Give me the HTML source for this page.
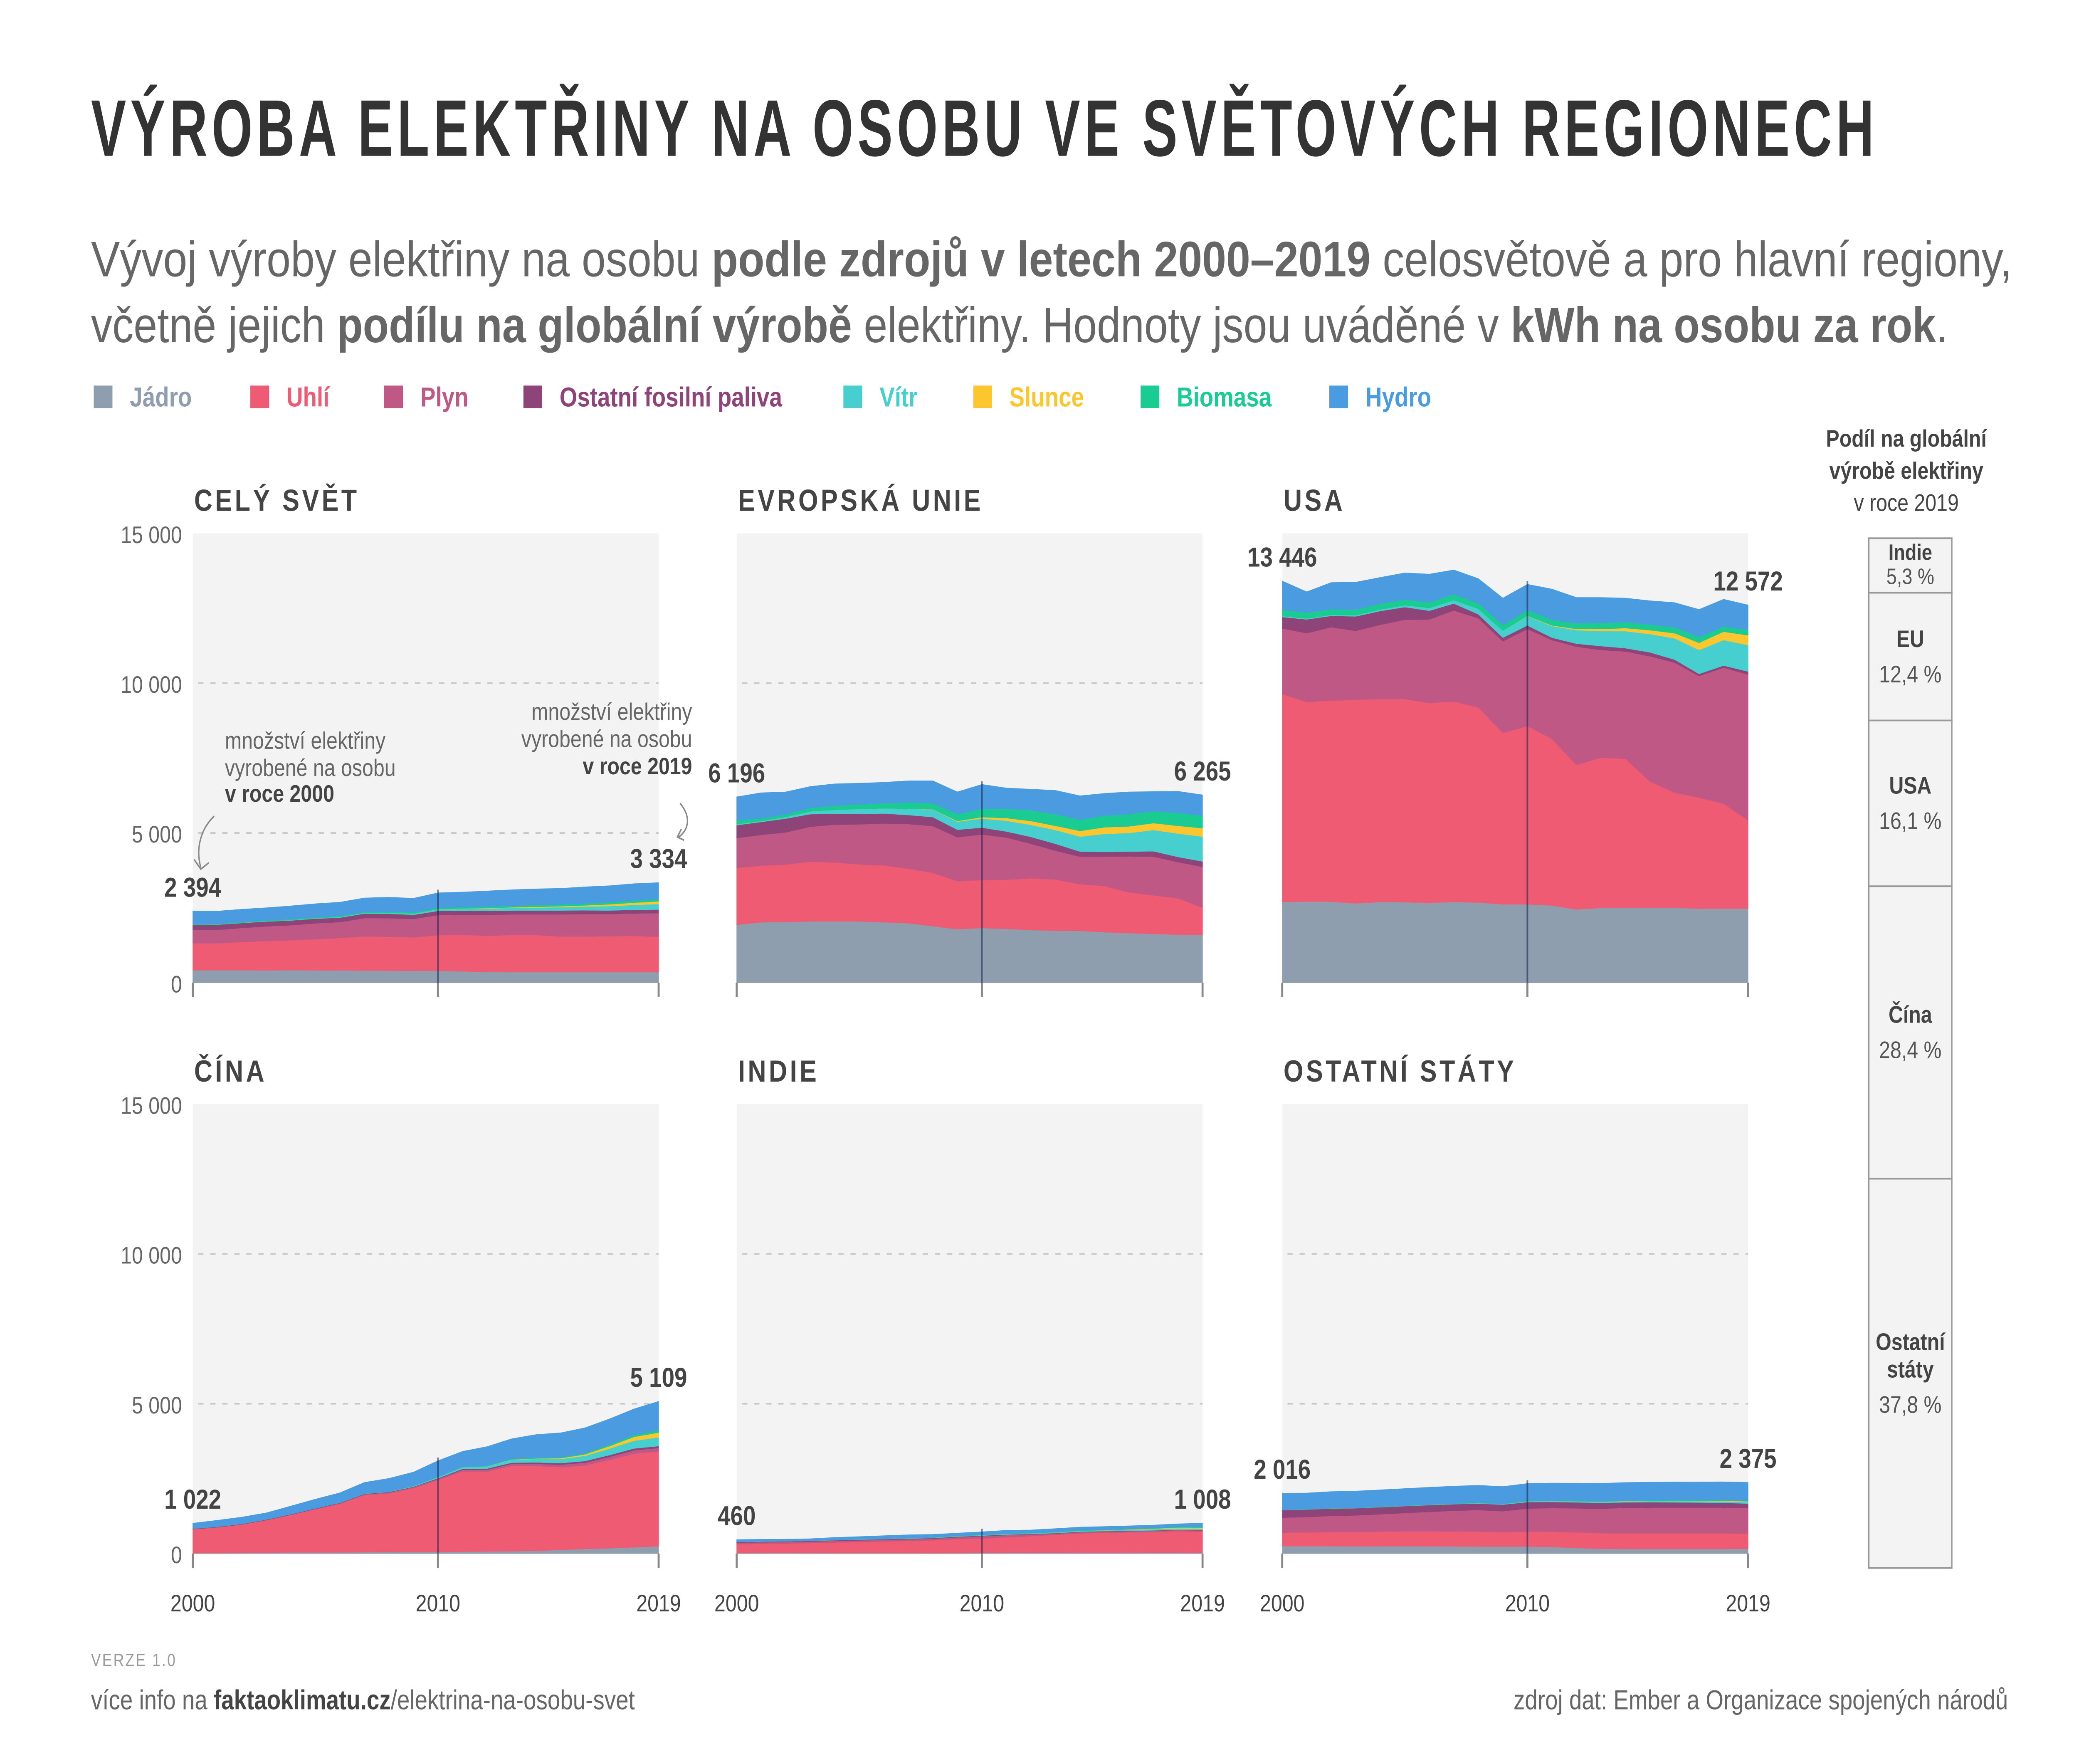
<!DOCTYPE html>
<html lang="cs">
<head>
<meta charset="utf-8">
<title>Výroba elektřiny na osobu ve světových regionech</title>
<style>
html,body{margin:0;padding:0;background:#fff;overflow:hidden;width:100%;height:100%;}
svg{display:block;width:100vw;height:100vh;}
text{font-family:"Liberation Sans","DejaVu Sans",sans-serif;}
</style>
</head>
<body>
<svg id="chart" xmlns="http://www.w3.org/2000/svg" viewBox="0 0 1553 1098" preserveAspectRatio="none">
  <rect x="0" y="0" width="1553" height="1098" fill="#ffffff"/>
  <text x="68" y="97" font-size="50" font-weight="bold" fill="#333" letter-spacing="4" style="font-family:'Liberation Sans Narrow','Liberation Sans',sans-serif" textLength="1335" lengthAdjust="spacingAndGlyphs">VÝROBA ELEKTŘINY NA OSOBU VE SVĚTOVÝCH REGIONECH</text>
  <text x="68" y="172" font-size="31" fill="#666" textLength="1435" lengthAdjust="spacingAndGlyphs">Vývoj výroby elektřiny na osobu <tspan font-weight="bold">podle zdrojů v letech 2000–2019</tspan> celosvětově a pro hlavní regiony,</text>
  <text x="68" y="213" font-size="31" fill="#666" textLength="1387" lengthAdjust="spacingAndGlyphs">včetně jejich <tspan font-weight="bold">podílu na globální výrobě</tspan> elektřiny. Hodnoty jsou uváděné v <tspan font-weight="bold">kWh na osobu za rok</tspan>.</text>
  <g id="legend"></g>
  <g id="panels"></g>
  <g id="annotations">
    <text x="168" y="466" font-size="15" fill="#666">množství elektřiny</text>
    <text x="168" y="483" font-size="15" fill="#666">vyrobené na osobu</text>
    <text x="168" y="499" font-size="15" fill="#444" font-weight="bold">v roce 2000</text>
    <path d="M160 508 C150 516 146 528 150 540" fill="none" stroke="#888" stroke-width="1"/>
    <path d="M145 535 L150 541 L156 537" fill="none" stroke="#888" stroke-width="1"/>
    <text x="517" y="448" font-size="15" fill="#666" text-anchor="end">množství elektřiny</text>
    <text x="517" y="465" font-size="15" fill="#666" text-anchor="end">vyrobené na osobu</text>
    <text x="517" y="482" font-size="15" fill="#444" font-weight="bold" text-anchor="end">v roce 2019</text>
    <path d="M508 500 C516 508 515 516 507 521" fill="none" stroke="#888" stroke-width="1"/>
    <path d="M509 516 L506 521 L511 523" fill="none" stroke="#888" stroke-width="1"/>
  </g>
  <g id="share">
    <text x="1424" y="278" font-size="15" font-weight="bold" fill="#444" text-anchor="middle">Podíl na globální</text>
    <text x="1424" y="298" font-size="15" font-weight="bold" fill="#444" text-anchor="middle">výrobě elektřiny</text>
    <text x="1424" y="318" font-size="15" fill="#444" text-anchor="middle">v roce 2019</text>
  </g>
  <g id="footer">
    <text x="68" y="1037" font-size="11" fill="#999" letter-spacing="1">VERZE 1.0</text>
    <text x="68" y="1064" font-size="17" fill="#666">více info na <tspan font-weight="bold" fill="#444">faktaoklimatu.cz</tspan>/elektrina-na-osobu-svet</text>
    <text x="1500" y="1064" font-size="17" fill="#666" text-anchor="end">zdroj dat: Ember a Organizace spojených národů</text>
  </g>
</svg>
<script>
// ---- data ----
const years = [2000,2001,2002,2003,2004,2005,2006,2007,2008,2009,2010,2011,2012,2013,2014,2015,2016,2017,2018,2019];
const seriesNames = ['Jádro','Uhlí','Plyn','Ostatní fosilní paliva','Vítr','Slunce','Biomasa','Hydro'];
const yTicks = [0,5000,10000,15000];
const yTickLabels = ['0','5 000','10 000','15 000'];
const xTickYears = [2000,2010,2019];

const worldValues = [
  [420,420,420,415,420,415,415,410,405,400,400,380,360,355,355,355,355,355,355,355],
  [900,900,940,980,1000,1040,1080,1140,1130,1120,1190,1220,1210,1240,1240,1190,1190,1200,1210,1180],
  [440,450,470,490,500,530,530,610,620,610,670,670,700,690,690,740,750,740,750,790],
  [170,170,165,160,160,155,150,150,150,140,140,140,135,130,130,130,125,120,120,120],
  [5,5,10,10,15,15,20,25,30,40,50,60,75,85,95,110,125,145,165,185],
  [0,0,0,0,0,0,0,0,0,0,5,8,12,18,25,32,40,60,75,90],
  [25,25,27,28,30,32,33,35,38,40,45,48,50,55,58,62,65,68,70,72],
  [430,420,420,420,440,450,460,460,480,470,500,500,520,530,540,530,550,550,560,550]
];
const euValues = [
  [1940,2020,2030,2050,2050,2050,2020,1990,1890,1790,1830,1800,1760,1740,1730,1690,1660,1630,1610,1600],
  [1900,1890,1920,1990,1970,1900,1900,1820,1780,1600,1600,1640,1730,1710,1560,1540,1360,1290,1210,910],
  [990,1030,1070,1170,1260,1340,1400,1490,1560,1470,1520,1410,1150,960,920,980,1200,1290,1210,1360],
  [430,430,460,420,360,350,330,300,300,250,230,200,230,230,170,160,160,180,170,180],
  [35,30,50,90,130,160,170,210,250,270,300,360,400,460,500,600,620,710,780,830],
  [0,0,0,0,0,0,0,0,10,20,50,90,130,140,190,220,220,230,260,280],
  [130,90,90,120,140,160,170,210,200,230,280,310,360,390,370,390,410,400,430,420],
  [780,850,750,710,730,700,700,720,750,740,810,690,700,790,800,740,740,650,720,690]
];
const usaValues = [
  [2700,2710,2710,2650,2700,2690,2670,2700,2680,2620,2620,2580,2450,2500,2500,2500,2500,2480,2480,2480],
  [6940,6660,6710,6800,6770,6780,6670,6690,6510,5720,5950,5560,4820,5020,4980,4220,3850,3700,3500,2940],
  [2190,2300,2450,2300,2480,2650,2790,3040,2980,3060,3240,3300,3950,3590,3580,4180,4340,4060,4540,4870],
  [380,460,380,480,460,420,290,230,130,120,120,80,100,130,110,130,100,70,70,100],
  [30,30,30,40,50,60,90,110,180,230,310,390,450,500,570,610,710,800,850,880],
  [0,0,0,0,0,0,0,0,0,0,10,20,40,70,100,130,170,240,280,330],
  [200,200,190,190,200,190,190,200,190,190,190,190,190,200,200,190,200,190,180,180],
  [970,690,890,910,870,890,940,810,820,900,860,1020,860,850,800,790,820,920,900,830]
];
const chinaValues = [
  [13,15,20,35,40,40,40,47,50,53,55,65,72,80,95,125,155,180,210,245],
  [800,860,950,1080,1250,1440,1620,1910,1960,2130,2400,2680,2670,2850,2830,2760,2790,2950,3130,3160],
  [5,5,5,8,10,15,20,25,30,35,40,55,60,65,70,85,90,100,110,120],
  [15,15,15,15,15,15,15,15,15,15,20,30,35,40,50,50,55,60,60,65],
  [0,0,0,0,0,0,2,4,10,20,35,55,75,100,115,135,175,215,260,290],
  [0,0,0,0,0,0,0,0,0,0,0,1,2,5,17,29,48,85,128,160],
  [0,0,0,0,0,0,1,2,3,5,8,10,15,20,25,30,40,55,65,80],
  [180,215,225,220,270,305,330,370,440,460,540,515,640,670,770,815,845,850,865,960]
];
const indiaValues = [
  [16,18,18,17,16,16,16,15,13,15,22,27,27,28,29,29,29,28,28,33],
  [300,310,320,335,355,370,390,410,430,470,480,515,555,600,645,665,680,695,720,700],
  [50,50,50,50,55,55,55,55,55,60,80,75,55,40,40,40,40,40,40,40],
  [22,22,22,22,22,22,22,22,22,22,20,18,18,17,16,15,14,12,10,10],
  [1,1,2,2,3,6,7,10,12,15,16,20,23,24,27,26,34,39,45,47],
  [0,0,0,0,0,0,0,0,0,0,0,0,1,3,4,5,10,19,29,37],
  [2,3,4,5,6,6,7,8,9,10,11,13,14,15,16,16,17,18,19,20],
  [73,72,62,63,80,90,100,105,98,90,95,108,93,105,105,106,100,100,100,127]
];
const otherValues = [
  [250,250,250,240,245,245,245,240,235,235,235,220,190,160,155,155,155,155,155,160],
  [450,460,470,480,490,500,500,500,500,480,500,510,520,520,520,520,520,520,520,510],
  [500,510,540,555,580,610,650,690,720,700,770,790,800,820,850,860,860,860,860,850],
  [250,250,245,240,235,230,225,220,215,220,215,205,200,195,185,180,175,170,160,150],
  [2,3,4,5,6,8,10,12,15,18,22,25,28,30,35,38,42,45,48,50],
  [0,0,0,0,0,0,0,0,0,0,2,3,5,6,8,10,12,16,20,25],
  [8,8,9,9,10,10,11,12,12,13,14,15,16,17,18,19,20,20,21,22],
  [556,540,550,555,560,565,570,575,580,570,580,585,590,595,600,600,605,605,610,608]
];
const regionTitles = ['CELÝ SVĚT','EVROPSKÁ UNIE','USA','ČÍNA','INDIE','OSTATNÍ STÁTY'];
const startLabels = ['2 394','6 196','13 446','1 022','460','2 016'];
const endLabels = ['3 334','6 265','12 572','5 109','1 008','2 375'];
const shareRegions = ['Indie','EU','USA','Čína','Ostatní státy'];
const shareValues = [5.3,12.4,16.1,28.4,37.8];
const shareLabels = ['5,3 %','12,4 %','16,1 %','28,4 %','37,8 %'];

// ---- styles / layout (not data) ----
const seriesColors = ['#8e9eae','#ef5b73','#c05886','#8e4379','#47cfd0','#fdc62e','#1acc92','#4a9bdf'];
const legendX = [70,187,287,391,630,727,852,993];
const regionData = [worldValues,euValues,usaValues,chinaValues,indiaValues,otherValues];
const colX = [144,550.3,957.8];
const rowBase = [611.7,967];
const plotW = 348, plotH = 279.7, yMax = 15000;

const NS = 'http://www.w3.org/2000/svg';
function mk(tag, attrs, parent){
  const e = document.createElementNS(NS, tag);
  for (const k in attrs) e.setAttribute(k, attrs[k]);
  parent.appendChild(e);
  return e;
}

// legend
const legend = document.getElementById('legend');
seriesNames.forEach((name, i) => {
  const sq = mk('rect', {x: legendX[i], y: 240, width: 14, height: 14, fill: seriesColors[i]}, legend);
  
  
  const t = mk('text', {x: legendX[i] + 27, y: 253, 'font-size': 17, 'font-weight': 'bold', fill: seriesColors[i]}, legend);
  t.textContent = name;
  
  
});

// panels
const panelsG = document.getElementById('panels');
regionData.forEach((values, r) => {
  const col = r % 3, row = Math.floor(r / 3);
  const x0 = colX[col], base = rowBase[row];
  const xs = i => x0 + (years[i] - years[0]) * plotW / (years[years.length - 1] - years[0]);
  const ys = v => base - v * plotH / yMax;
  const g = mk('g', {}, panelsG);
  
  

  const title = mk('text', {x: x0 + 1, y: base - plotH - 14, 'font-size': 19, 'font-weight': 'bold', fill: '#444', 'letter-spacing': 2}, g);
  title.textContent = regionTitles[r];
  
  

  const bg = mk('rect', {x: x0, y: ys(yMax), width: plotW, height: plotH, fill: '#f3f3f3'}, g);
  
  

  yTicks.forEach((tv, ti) => {
    if (tv > 0 && tv < yMax) {
      const gl = mk('line', {x1: x0 + 4, x2: x0 + plotW, y1: ys(tv), y2: ys(tv), stroke: '#c8c8c8', 'stroke-width': 1, 'stroke-dasharray': '4 5'}, g);
      
      
    }
    if (col === 0) {
      const tl = mk('text', {x: x0 - 8, y: ys(tv) + 6, 'font-size': 15, fill: '#666', 'text-anchor': 'end'}, g);
      tl.textContent = yTickLabels[ti];
      
      
    }
  });

  // stacked areas
  const cum = years.map(() => 0);
  values.forEach((serie, s) => {
    const lower = cum.slice();
    serie.forEach((v, i) => { cum[i] += v; });
    let d = '';
    years.forEach((yr, i) => { d += (i ? 'L' : 'M') + xs(i).toFixed(2) + ' ' + ys(cum[i]).toFixed(2); });
    for (let i = years.length - 1; i >= 0; i--) d += 'L' + xs(i).toFixed(2) + ' ' + ys(lower[i]).toFixed(2);
    d += 'Z';
    const p = mk('path', {d: d, fill: seriesColors[s], stroke: seriesColors[s], 'stroke-width': 0.3}, g);
    
    
  });

  // 2010 marker line
  const i10 = years.indexOf(2010);
  const vl = mk('line', {x1: xs(i10), x2: xs(i10), y1: base, y2: ys(cum[i10]) - 2, stroke: 'rgba(20,30,70,0.55)', 'stroke-width': 1.2}, g);
  
  

  // x ticks
  xTickYears.forEach(yr => {
    const xi = years.indexOf(yr);
    const tk = mk('line', {x1: xs(xi), x2: xs(xi), y1: base, y2: base + 9, stroke: '#888', 'stroke-width': 1.5}, g);
    
    
    if (row === 1) {
      const xl = mk('text', {x: xs(xi), y: base + 36, 'font-size': 15, fill: '#444', 'text-anchor': 'middle'}, g);
      xl.textContent = String(yr);
      
      
    }
  });

  // total labels
  const first = values.reduce((a, s) => a + s[0], 0);
  const last = values.reduce((a, s) => a + s[s.length - 1], 0);
  const sl = mk('text', {x: xs(0), y: ys(first) - 9, 'font-size': 17, 'font-weight': 'bold', fill: '#444', 'text-anchor': 'middle'}, g);
  sl.textContent = startLabels[r];
  
  
  const el = mk('text', {x: xs(years.length - 1), y: ys(last) - 9, 'font-size': 17, 'font-weight': 'bold', fill: '#444', 'text-anchor': 'middle'}, g);
  el.textContent = endLabels[r];
  
  
});

// share bar
const shareG = document.getElementById('share');
const barX = 1396, barW = 62, barTop = 335, barH = 641;
const totalShare = shareValues.reduce((a, b) => a + b, 0);
let yCur = barTop;
shareValues.forEach((v, i) => {
  const h = v / totalShare * barH;
  const rc = mk('rect', {x: barX, y: yCur, width: barW, height: h, fill: '#f3f3f3', stroke: '#999', 'stroke-width': 1}, shareG);
  
  
  const cx = barX + barW / 2, mid = yCur + h / 2;
  const parts = shareRegions[i] === 'Ostatní státy' ? ['Ostatní', 'státy'] : [shareRegions[i]];
  const small = h < 40;
  const lh = small ? 15 : 17;
  const gap = small ? 15 : 22;
  const blockH = (parts.length - 1) * lh + gap;
  let ty = mid - blockH / 2 + (small ? 4 : 5);
  parts.forEach(pt => {
    const t = mk('text', {x: cx, y: ty, 'font-size': small ? 14 : 15, 'font-weight': 'bold', fill: '#444', 'text-anchor': 'middle'}, shareG);
    t.textContent = pt;
    
    
    ty += lh;
  });
  const pv = mk('text', {x: cx, y: ty - lh + gap, 'font-size': small ? 14 : 15, fill: '#555', 'text-anchor': 'middle'}, shareG);
  pv.textContent = shareLabels[i];
  
  
  yCur += h;
});
</script>
</body>
</html>
